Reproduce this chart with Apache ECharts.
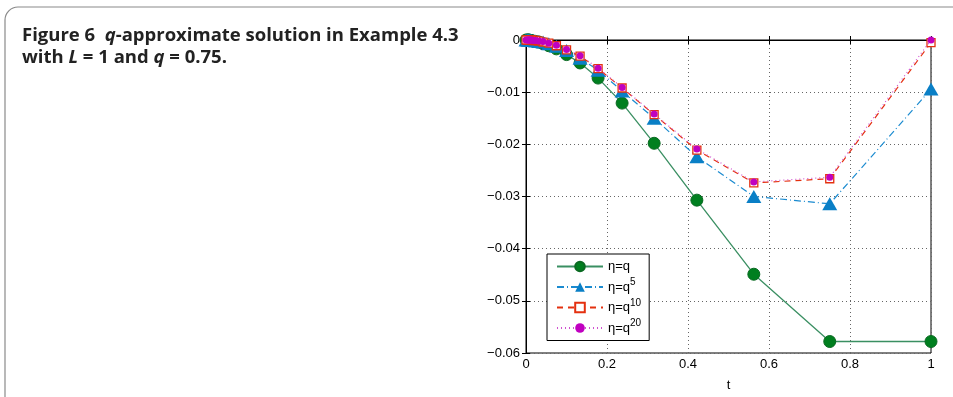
<!DOCTYPE html>
<html>
<head>
<meta charset="utf-8">
<script src="https://cdn.jsdelivr.net/npm/echarts@6/dist/echarts.min.js"></script>
<style>
  html, body { margin: 0; padding: 0; background: #fff; }
  #chart { width: 953px; height: 397px; }
</style>
</head>
<body>
<div id="chart"></div>
<script>
// t = q^k nodes (q = 0.75)
var tValues = [1, 0.75, 0.5625, 0.4219, 0.3164, 0.2373, 0.178, 0.1335, 0.1001, 0.0751, 0.0563,
               0.0422, 0.0317, 0.0238, 0.0178, 0.0134, 0.01, 0.0075, 0.0056, 0.0042, 0];

var etaQ   = [-0.0578, -0.0578, -0.0449, -0.0307, -0.0198, -0.0121, -0.0073, -0.0044, -0.0028, -0.0017, -0.0011,
              -0.0007, -0.0004, -0.0003, -0.0002, -0.0001, -0.0001, 0, 0, 0, 0];
var etaQ5  = [-0.0094, -0.0314, -0.0300, -0.0224, -0.0150, -0.0098, -0.0058, -0.0035, -0.0020, -0.0012, -0.0007,
              -0.0004, -0.0003, -0.0002, -0.0001, -0.0001, 0, 0, 0, 0, 0];
var etaQ10 = [-0.0005, -0.0266, -0.0274, -0.0211, -0.0143, -0.0092, -0.0055, -0.0031, -0.0019, -0.0011, -0.0006,
              -0.0004, -0.0002, -0.0001, -0.0001, 0, 0, 0, 0, 0, 0];
var etaQ20 = [0, -0.0263, -0.0272, -0.0209, -0.0142, -0.0091, -0.0054, -0.0030, -0.0018, -0.0010, -0.0006,
              -0.0003, -0.0002, -0.0001, -0.0001, 0, 0, 0, 0, 0, 0];

var seriesNames = ['η=q', 'η=q^5', 'η=q^10', 'η=q^20'];

function pairs(ys) {
  var out = [];
  for (var i = 0; i < tValues.length; i++) out.push([tValues[i], ys[i]]);
  return out;
}

var font = 'Liberation Sans, Arial, sans-serif';
var chart = echarts.init(document.getElementById('chart'), null, {renderer: 'canvas'});

var gridLine = {show: true, lineStyle: {color: '#666', type: [1, 3], width: 1}};

var option = {
  backgroundColor: '#fff',
  animation: false,
  graphic: [
    {
      type: 'rect',
      shape: {x: 5, y: 7, width: 1000, height: 500, r: 13},
      style: {fill: 'none', stroke: '#8a8a8a', lineWidth: 1.2},
      silent: true
    },
    {
      type: 'text',
      left: 22,
      top: 26,
      style: {
        text: '{b|Figure 6  }{i|q}{b|-approximate solution in Example 4.3}\n{b|with }{i|L}{b| = 1 and }{i|q}{b| = 0.75.}',
        rich: {
          b: {fontFamily: 'Open Sans', fontWeight: 'bold', fontSize: 18.5, fill: '#222', lineHeight: 22},
          i: {fontFamily: 'Open Sans', fontWeight: 'bold', fontStyle: 'italic', fontSize: 18.5, fill: '#222', lineHeight: 22}
        }
      }
    }
  ],
  grid: {left: 526, top: 40, width: 405, height: 313, show: true, borderColor: '#000', borderWidth: 1},
  legend: {
    orient: 'vertical',
    left: 547,
    top: 254,
    width: 106,
    padding: [6, 8, 6, 9],
    itemWidth: 46,
    itemHeight: 12,
    itemGap: 4.5,
    borderColor: '#000',
    borderWidth: 1,
    backgroundColor: '#fff',
    data: seriesNames,
    formatter: function (name) {
      var p = name.split('^');
      return p.length > 1 ? '{n|' + p[0] + '}{s|' + p[1] + '}' : '{n|' + p[0] + '}';
    },
    textStyle: {
      fontFamily: font, fontSize: 13, color: '#000',
      rich: {
        n: {fontFamily: font, fontSize: 13, color: '#000'},
        s: {fontFamily: font, fontSize: 10, color: '#000', padding: [0, 0, 9, 0]}
      }
    }
  },
  xAxis: [
    {
      type: 'value', min: 0, max: 1, interval: 0.2,
      name: 't', nameLocation: 'middle', nameGap: 26,
      nameTextStyle: {fontFamily: font, fontSize: 13, color: '#000'},
      axisLine: {lineStyle: {color: '#000', width: 1}},
      axisTick: {inside: true, length: 4, lineStyle: {color: '#000'}},
      axisLabel: {fontFamily: font, fontSize: 13, color: '#000', margin: 5,
        formatter: function (v) { return String(v); }},
      splitLine: gridLine
    },
    {
      type: 'value', min: 0, max: 1, interval: 0.2, position: 'top',
      axisLine: {lineStyle: {color: '#000'}},
      axisTick: {inside: true, length: 4, lineStyle: {color: '#000'}},
      axisLabel: {show: false}, splitLine: {show: false}
    }
  ],
  yAxis: [
    {
      type: 'value', min: -0.06, max: 0, interval: 0.01,
      axisLine: {lineStyle: {color: '#000', width: 1}},
      axisTick: {inside: true, length: 4, lineStyle: {color: '#000'}},
      axisLabel: {fontFamily: font, fontSize: 13, color: '#000', margin: 6,
        formatter: function (v) { return v === 0 ? '0' : String(Math.round(v * 100) / 100).replace('-', '\u2212'); }},
      splitLine: gridLine
    },
    {
      type: 'value', min: -0.06, max: 0, interval: 0.01, position: 'right',
      axisLine: {lineStyle: {color: '#000'}},
      axisTick: {inside: true, length: 4, lineStyle: {color: '#000'}},
      axisLabel: {show: false}, splitLine: {show: false}
    }
  ],
  series: [
    {
      name: seriesNames[0], type: 'line', data: pairs(etaQ), clip: false,
      symbol: 'circle', symbolSize: 12,
      itemStyle: {color: '#007f1f', borderColor: '#0a6a22', borderWidth: 1},
      lineStyle: {color: '#3a8f62', width: 1.3, type: 'solid'},
      z: 2
    },
    {
      name: seriesNames[1], type: 'line', data: pairs(etaQ5), clip: false,
      symbol: 'triangle', symbolSize: [15, 13],
      itemStyle: {color: '#0a7fc6'},
      lineStyle: {color: '#1b8bd0', width: 1.2, type: [7, 3, 1, 3]},
      z: 3
    },
    {
      name: seriesNames[2], type: 'line', data: pairs(etaQ10), clip: false,
      symbol: 'rect', symbolSize: 8,
      itemStyle: {color: '#fff', borderColor: '#e4300f', borderWidth: 1.3},
      lineStyle: {color: '#e4300f', width: 1.2, type: [6, 5]},
      z: 4
    },
    {
      name: seriesNames[3], type: 'line', data: pairs(etaQ20), clip: false,
      symbol: 'circle', symbolSize: 7,
      itemStyle: {color: '#c000c0'},
      lineStyle: {color: '#d050d0', width: 1.2, type: [1, 3]},
      z: 5
    }
  ]
};

chart.setOption(option);
</script>
</body>
</html>
